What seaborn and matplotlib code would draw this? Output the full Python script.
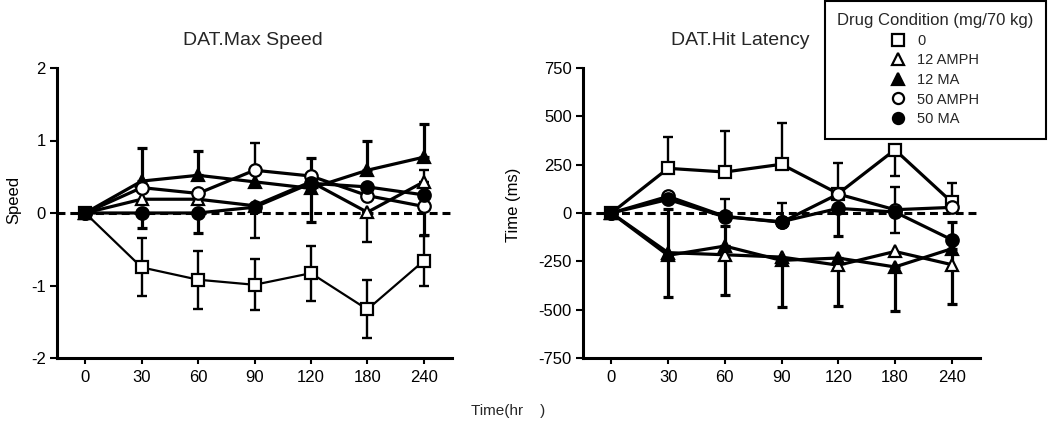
import numpy as np
import pandas as pd
import matplotlib
matplotlib.use('Agg')
import matplotlib.pyplot as plt
import seaborn as sns
from matplotlib.lines import Line2D

nan = np.nan

# time points (hr) and drug conditions
times = ['0', '30', '60', '90', '120', '180', '240']
conditions = ['0', '12 AMPH', '12 MA', '50 AMPH', '50 MA']
cond_markers = ['s', '^', '^', 'o', 'o']
cond_faces = ['white', 'white', 'black', 'white', 'black']

# DAT.Max Speed (change from baseline)
speed_0 = [0, -0.75, -0.92, -0.99, -0.83, -1.33, -0.66]
speed_12amph = [0, 0.19, 0.19, 0.10, 0.43, 0.01, 0.43]
speed_12ma = [0, 0.44, 0.52, 0.43, 0.34, 0.59, 0.77]
speed_50amph = [0, 0.35, 0.27, 0.59, 0.51, 0.24, 0.09]
speed_50ma = [0, 0.0, 0.0, 0.08, 0.41, 0.36, 0.25]

speed_lo_0 = [nan, 0.40, 0.40, 0.35, 0.38, 0.40, 0.34]
speed_hi_0 = [nan, 0.40, 0.40, 0.35, 0.38, 0.40, 0.34]
speed_lo_12amph = [nan, nan, nan, 0.45, nan, 0.41, nan]
speed_hi_12amph = [nan, nan, nan, nan, nan, nan, 0.17]
speed_lo_12ma = [nan, nan, nan, nan, 0.47, nan, nan]
speed_hi_12ma = [nan, 0.45, 0.33, nan, 0.42, 0.40, 0.46]
speed_lo_50amph = [nan, nan, nan, nan, nan, nan, nan]
speed_hi_50amph = [nan, nan, nan, 0.38, nan, nan, nan]
speed_lo_50ma = [nan, 0.20, 0.27, nan, nan, nan, 0.55]
speed_hi_50ma = [nan, nan, nan, nan, nan, nan, nan]

# DAT.Hit Latency (ms, change from baseline)
lat_0 = [0, 231, 212, 252, 100, 327, 57]
lat_12amph = [0, -205, -216, -228, -270, -199, -267]
lat_12ma = [0, -219, -171, -245, -233, -279, -185]
lat_50amph = [0, 86, -17, -48, 98, 17, 29]
lat_50ma = [0, 70, -20, -45, 24, 5, -138]

lat_lo_0 = [nan, nan, nan, nan, nan, 134, nan]
lat_hi_0 = [nan, 162, 214, 214, 160, nan, 97]
lat_lo_12amph = [nan, nan, nan, nan, nan, nan, nan]
lat_hi_12amph = [nan, nan, nan, nan, nan, nan, nan]
lat_lo_12ma = [nan, 218, 254, 239, 246, 226, 287]
lat_hi_12ma = [nan, 240, 103, nan, nan, nan, nan]
lat_lo_50amph = [nan, nan, nan, nan, nan, 120, nan]
lat_hi_50amph = [nan, nan, 92, 99, nan, 120, nan]
lat_lo_50ma = [nan, nan, nan, nan, 141, nan, nan]
lat_hi_50ma = [nan, nan, nan, nan, nan, nan, 94]

sns.set_theme(style='ticks')
plt.rcParams['font.family'] = ['Liberation Sans', 'DejaVu Sans']
plt.rcParams['axes.unicode_minus'] = False

fig = plt.figure(figsize=(10.5, 4.28), dpi=100)
ax1 = fig.add_axes([57 / 1050, 70 / 428, 395 / 1050, 290 / 428])
ax2 = fig.add_axes([583 / 1050, 70 / 428, 397 / 1050, 290 / 428])

xpos = np.arange(len(times))


def one_sided(ax, vals, err, down, ew):
    # draw only the points that have an error bar on this side
    err = np.asarray(err, dtype=float)
    vals = np.asarray(vals, dtype=float)
    m = ~np.isnan(err)
    if not m.any():
        return
    zero = np.zeros(m.sum())
    yerr = [err[m], zero] if down else [zero, err[m]]
    ax.errorbar(xpos[m], vals[m], yerr=yerr, fmt='none', ecolor='black',
                elinewidth=ew, capsize=3.5, capthick=ew, zorder=2)


def draw_panel(ax, series, los, his, widths):
    for vals, lo, hi, mk, fc, lw in zip(series, los, his, cond_markers, cond_faces, widths):
        ew = 2.3 if fc == 'black' else 1.7
        one_sided(ax, vals, lo, True, ew)
        one_sided(ax, vals, hi, False, ew)
        ms = 8 if mk == 's' else 9
        sns.lineplot(x=xpos, y=vals, ax=ax, color='black', lw=lw, marker=mk,
                     markersize=ms, markerfacecolor=fc, markeredgecolor='black',
                     markeredgewidth=1.6, errorbar=None, legend=False, zorder=3)
    ax.axhline(0, color='black', lw=2.2, ls=(0, (2.6, 1.6)), zorder=1)
    ax.set_xlim(-0.5, 6.5)
    ax.set_xticks(xpos)
    ax.set_xticklabels(times)
    sns.despine(ax=ax)
    for side in ['left', 'bottom']:
        ax.spines[side].set_linewidth(2.2)
        ax.spines[side].set_color('black')
    ax.tick_params(axis='y', length=5, width=1.5, pad=3, labelsize=12, colors='black')
    ax.tick_params(axis='x', length=4, width=1.5, pad=5, labelsize=12, colors='black')
    ax.set_xlabel('')


draw_panel(ax1,
           [speed_0, speed_12amph, speed_12ma, speed_50amph, speed_50ma],
           [speed_lo_0, speed_lo_12amph, speed_lo_12ma, speed_lo_50amph, speed_lo_50ma],
           [speed_hi_0, speed_hi_12amph, speed_hi_12ma, speed_hi_50amph, speed_hi_50ma],
           [1.6, 2.3, 2.3, 2.3, 2.3])
ax1.set_ylim(-2, 2)
ax1.set_yticks([-2, -1, 0, 1, 2])
ax1.set_ylabel('Speed', fontsize=12, color='black')
ax1.yaxis.set_label_coords(-0.09, 0.545)

draw_panel(ax2,
           [lat_0, lat_12amph, lat_12ma, lat_50amph, lat_50ma],
           [lat_lo_0, lat_lo_12amph, lat_lo_12ma, lat_lo_50amph, lat_lo_50ma],
           [lat_hi_0, lat_hi_12amph, lat_hi_12ma, lat_hi_50amph, lat_hi_50ma],
           [2.3, 2.3, 2.3, 2.3, 2.3])
ax2.set_ylim(-750, 750)
ax2.set_yticks([-750, -500, -250, 0, 250, 500, 750])
ax2.set_ylabel('Time (ms)', fontsize=12, color='black')
ax2.yaxis.set_label_coords(-0.157, 0.528)

fig.text(253 / 1050, 1 - 45 / 428, 'DAT.Max Speed', ha='center', va='baseline', fontsize=14)
fig.text(740 / 1050, 1 - 45 / 428, 'DAT.Hit Latency', ha='center', va='baseline', fontsize=14)
fig.text(508 / 1050, 1 - 415 / 428, 'Time(hr    )', ha='center', va='baseline', fontsize=11)

handles = [Line2D([], [], ls='none', marker=mk, markersize=8, markerfacecolor=fc,
                  markeredgecolor='black', markeredgewidth=1.6)
           for mk, fc in zip(cond_markers, cond_faces)]
leg = fig.legend(handles, conditions, loc='upper left',
                 bbox_to_anchor=(825 / 1050, 427 / 428), borderaxespad=0,
                 title='Drug Condition (mg/70 kg)', fontsize=10.5, title_fontsize=12,
                 frameon=True, fancybox=False, edgecolor='black', framealpha=1,
                 alignment='center', handlelength=0.8, handletextpad=0.9,
                 labelspacing=0.38, borderpad=0.85)
leg.get_frame().set_linewidth(1.5)

# underline the legend title
fig.canvas.draw()
bb = leg.get_title().get_window_extent()
W, H = fig.bbox.width, fig.bbox.height
fig.add_artist(Line2D([(bb.x0 - 3) / W, (bb.x1 + 3) / W], [(bb.y0 + 1) / H, (bb.y0 + 1) / H],
                      transform=fig.transFigure, color='black', lw=1.2))

fig.savefig('out.png', dpi=100)
